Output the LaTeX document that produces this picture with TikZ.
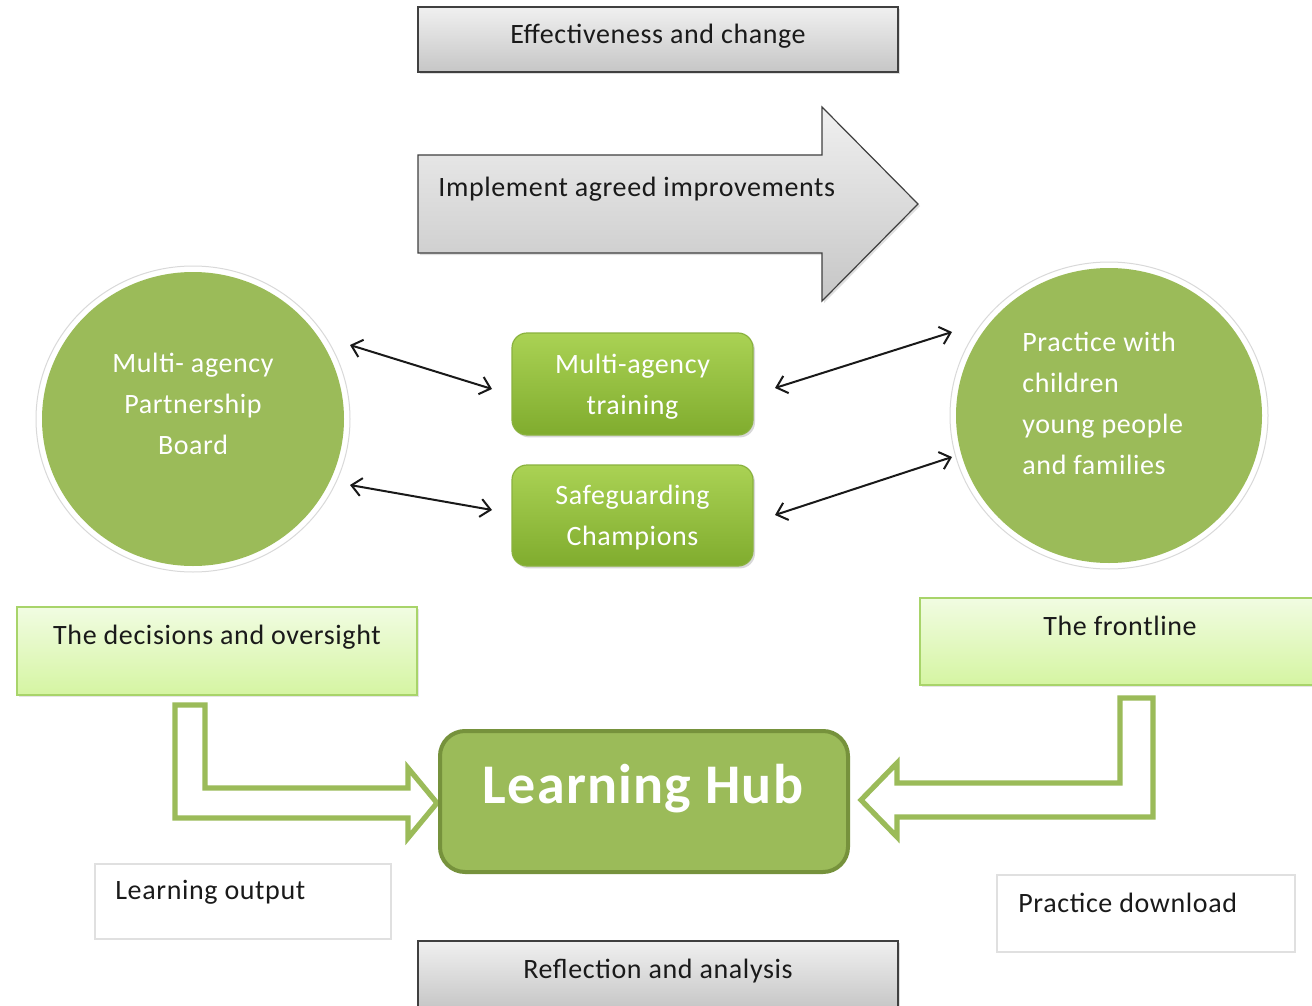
\documentclass[tikz,border=0pt]{standalone}
\usepackage{fontspec}
\setmainfont[LetterSpace=2.2]{Carlito}
\usetikzlibrary{shapes.geometric,arrows.meta,shadows}
\definecolor{olive}{HTML}{9BBB59}
\definecolor{olivedark}{HTML}{76923C}
\definecolor{gtop}{HTML}{AAD254}
\definecolor{gbot}{HTML}{80AC2E}
\definecolor{gline}{HTML}{8AB23E}
\definecolor{ltop}{HTML}{F1FCE2}
\definecolor{lbot}{HTML}{D5F5A2}
\definecolor{lline}{HTML}{A8D46A}
\definecolor{greytop}{HTML}{F0F0F0}
\definecolor{greybot}{HTML}{C6C6C6}
\definecolor{txt}{HTML}{1A1A1A}
\begin{document}
\begin{tikzpicture}[x=0.5pt,y=-0.5pt,
  base/.style={font=\fontsize{14pt}{20.5pt}\selectfont, text=txt},
  greybox/.style={rectangle, draw=black!75, line width=0.6pt, top color=greytop, bottom color=greybot,
     drop shadow={shadow xshift=1pt,shadow yshift=-1pt,opacity=0.25}},
  lightbox/.style={rectangle, draw=lline, line width=0.6pt, top color=ltop, bottom color=lbot,
     drop shadow={shadow xshift=1pt,shadow yshift=-1pt,opacity=0.2}},
  plainbox/.style={rectangle, draw=black!12, line width=0.6pt, fill=white},
  greenbtn/.style={rectangle, rounded corners=7.5pt, draw=gline, line width=0.6pt, top color=gtop, bottom color=gbot,
     drop shadow={shadow xshift=1pt,shadow yshift=-1.2pt,opacity=0.3}},
  ring/.style={ellipse, fill=white, draw=black!15, line width=0.5pt, inner sep=0pt},
  disc/.style={ellipse, fill=olive, draw=none, inner sep=0pt},
  wtxt/.style={base, text=white, align=center},
  dbl/.style={{Straight Barb[length=5pt,width=9pt,line width=1pt]}-{Straight Barb[length=5pt,width=9pt,line width=1pt]}, line width=1pt, black!90},
  bent/.style={draw=olive, line width=2.6pt, fill=white, line join=miter}
]
\clip (0,0) rectangle (1312,1006);
\fill[white] (0,0) rectangle (1312,1006);

% top box
\node[greybox, minimum width=240pt, minimum height=32.5pt] (eff) at (658,39.5) {};
\node[base] (efft) at (658,36) {Effectiveness and change};

% big arrow
\path[draw=black!75, line width=0.6pt, top color=greytop, bottom color=greybot,
      drop shadow={shadow xshift=1pt,shadow yshift=-1pt,opacity=0.25}]
  (418,155) -- (822,155) -- (822,107) -- (918,204) -- (822,301) -- (822,253) -- (418,253) -- cycle;
\node[base, anchor=west, inner sep=0pt] (impl) at (438,189) {Implement agreed improvements};

% circles
\node[ring, minimum width=157pt, minimum height=153pt] (lring) at (193,419) {};
\node[disc, minimum width=151pt, minimum height=147pt] (lcirc) at (193,419) {};
\node[wtxt] (lct) at (193,403.5) {Multi- agency\\Partnership\\Board};

\node[ring, minimum width=159pt, minimum height=153.5pt] (rring) at (1109,415.5) {};
\node[disc, minimum width=153pt, minimum height=147.5pt] (rcirc) at (1109,415.5) {};
\node[base, text=white, align=left, anchor=west, inner sep=0pt] (rct) at (1022,403) {Practice with\\children\\young people\\and families};

% green buttons
\node[greenbtn, minimum width=120.5pt, minimum height=51pt] (train) at (632.5,384) {};
\node[wtxt] (traint) at (632.5,386.5) {Multi-agency\\training};
\node[greenbtn, minimum width=120.5pt, minimum height=50.5pt] (champ) at (632.5,515.5) {};
\node[wtxt] (champt) at (632.5,517.5) {Safeguarding\\Champions};

% double arrows
\coordinate (a1s) at (350,345); \coordinate (a1e) at (492,389);
\coordinate (a2s) at (350,485); \coordinate (a2e) at (492,510);
\coordinate (a3s) at (775,388); \coordinate (a3e) at (952,332);
\coordinate (a4s) at (775,515); \coordinate (a4e) at (952,457);
\draw[dbl] (a1s) -- (a1e);
\draw[dbl] (a2s) -- (a2e);
\draw[dbl] (a3s) -- (a3e);
\draw[dbl] (a4s) -- (a4e);

% light green boxes
\node[lightbox, minimum width=200pt, minimum height=44pt] (dec) at (217,651) {};
\node[base] (dect) at (217,637) {The decisions and oversight};
\node[lightbox, minimum width=199pt, minimum height=43.5pt] (front) at (1119,641.5) {};
\node[base] (frontt) at (1120,626) {The frontline};

% bent arrows
\path[bent] (175,705) -- (205,705) -- (205,788) -- (408,788) -- (408,768) -- (437,803)
  -- (408,838) -- (408,818) -- (175,818) -- cycle;
\path[bent] (1153,698) -- (1120,698) -- (1120,783) -- (897,783) -- (897,763) -- (861,800)
  -- (897,837) -- (897,817) -- (1153,817) -- cycle;

% learning hub
\node[rectangle, rounded corners=12.5pt, fill=olive, draw=olivedark, line width=2pt,
      minimum width=204pt, minimum height=70.5pt] (hub) at (644,801.5) {};
\node[font=\fontsize{28pt}{32pt}\selectfont\bfseries, text=white] (hubt) at (643,789) {Learning Hub};

% plain boxes
\node[plainbox, minimum width=148pt, minimum height=37.5pt] (lout) at (243,901.5) {};
\node[base, anchor=west, inner sep=0pt] (loutt) at (115,892) {Learning output};
\node[plainbox, minimum width=149pt, minimum height=38.5pt] (pdl) at (1146,913.5) {};
\node[base, anchor=west, inner sep=0pt] (pdlt) at (1018,903) {Practice download};

% bottom box
\node[greybox, minimum width=240pt, minimum height=34pt] (refl) at (658,975) {};
\node[base] (reflt) at (658,971) {Reflection and analysis};
\end{tikzpicture}
\end{document}
